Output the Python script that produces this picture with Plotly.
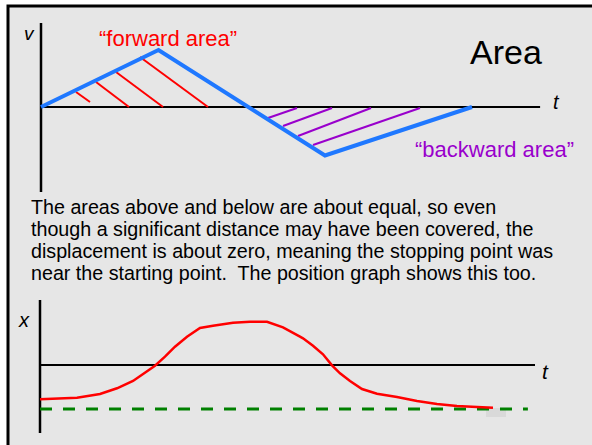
import plotly.graph_objects as go

W, H = 592, 445
FONT = "Liberation Sans"

# ---- velocity graph (t, v) ----
vel_t = [0.0, 2.726, 6.589, 10.0]
vel_v = [0.0, 5.7, -4.85, 0.0]

# hatching of the forward (positive) area: start/end of each stroke
fwd_t0 = [0.812, 1.276, 1.740, 2.297]
fwd_t1 = [1.137, 2.042, 2.831, 3.875]
fwd_v0 = [1.5, 2.5, 3.5, 5.0]
fwd_v1 = [0.5, 0.0, 0.0, 0.0]

# hatching of the backward (negative) area
back_t0 = [5.267, 5.615, 5.963, 6.311]
back_t1 = [5.940, 6.752, 7.657, 8.794]
back_v0 = [-1.1, -1.9, -2.9, -3.8]
back_v1 = [-0.1, -0.1, -0.1, -0.1]

vel_axis_v = [8.4, -8.5]      # extent of the v axis
vel_axis_t = [0.0, 11.58]     # extent of the t axis

# ---- position graph (t, x) ----
pos_t = [0.0, 0.858, 1.392, 1.787, 2.158, 2.483, 2.668, 2.900, 3.132, 3.411,
         3.712, 4.014, 4.478, 4.872, 5.267, 5.638, 5.800, 6.032, 6.102, 6.334,
         6.566, 6.775, 6.961, 7.193, 7.471, 7.819, 8.283, 8.747, 9.211, 9.675,
         10.139, 10.510]
pos_x = [-3.43, -3.27, -2.90, -2.33, -1.60, -0.67, -0.07, 0.83, 1.83, 2.83,
         3.70, 3.93, 4.23, 4.33, 4.33, 3.77, 3.35, 2.83, 2.67, 1.93,
         1.07, -0.03, -0.83, -1.60, -2.40, -2.87, -3.20, -3.60, -3.90, -4.10,
         -4.20, -4.27]
start_level = -4.4            # dashed reference level
start_level_t = [0.0, 11.32]

pos_axis_x = [6.5, -6.8]
pos_axis_t = [0.0, 11.485]

paragraph = [
    "The areas above and below are about equal, so even",
    "though a significant distance may have been covered, the",
    "displacement is about zero, meaning the stopping point was",
    "near the starting point.  The position graph shows this too.",
]


def segs(t0, t1, y0, y1):
    xs, ys = [], []
    for a, b, c, d in zip(t0, t1, y0, y1):
        xs += [a, b, None]
        ys += [c, d, None]
    return xs, ys


def px(x):
    return x / W


def py(y):
    return 1 - y / H


fig = go.Figure()

# velocity axes
fig.add_trace(go.Scatter(x=[0, 0], y=vel_axis_v, mode="lines",
                         line=dict(color="black", width=2.5), xaxis="x", yaxis="y"))
fig.add_trace(go.Scatter(x=vel_axis_t, y=[0, 0], mode="lines",
                         line=dict(color="black", width=2), xaxis="x", yaxis="y"))

hx, hy = segs(fwd_t0, fwd_t1, fwd_v0, fwd_v1)
fig.add_trace(go.Scatter(x=hx, y=hy, mode="lines",
                         line=dict(color="#ff0000", width=2), xaxis="x", yaxis="y"))
hx, hy = segs(back_t0, back_t1, back_v0, back_v1)
fig.add_trace(go.Scatter(x=hx, y=hy, mode="lines",
                         line=dict(color="#9900cc", width=2), xaxis="x", yaxis="y"))

fig.add_trace(go.Scatter(x=vel_t, y=vel_v, mode="lines",
                         line=dict(color="#1f78ff", width=4), xaxis="x", yaxis="y"))

# position axes
fig.add_trace(go.Scatter(x=[0, 0], y=pos_axis_x, mode="lines",
                         line=dict(color="black", width=2.5), xaxis="x2", yaxis="y2"))
fig.add_trace(go.Scatter(x=pos_axis_t, y=[0, 0], mode="lines",
                         line=dict(color="black", width=2), xaxis="x2", yaxis="y2"))
fig.add_trace(go.Scatter(x=start_level_t, y=[start_level, start_level], mode="lines",
                         line=dict(color="#008000", width=3, dash="12px,11px"),
                         xaxis="x2", yaxis="y2"))
fig.add_trace(go.Scatter(x=pos_t, y=pos_x, mode="lines",
                         line=dict(color="#ff0000", width=2.5), xaxis="x2", yaxis="y2"))

ax = dict(visible=False, fixedrange=True)
fig.update_layout(
    width=W, height=H,
    margin=dict(l=0, r=0, t=0, b=0),
    showlegend=False,
    paper_bgcolor="white",
    plot_bgcolor="rgba(0,0,0,0)",
    xaxis=dict(ax, domain=[0, 1], range=[-41 / 43.1, 551 / 43.1], anchor="y"),
    yaxis=dict(ax, domain=[1 - 200 / H, 1], range=[-9.3, 10.7], anchor="x"),
    xaxis2=dict(ax, domain=[0, 1], range=[-40 / 43.1, 552 / 43.1], anchor="y2"),
    yaxis2=dict(ax, domain=[0, 150 / H], range=[-8.0, 7.0], anchor="x2"),
    shapes=[
        dict(type="rect", xref="paper", yref="paper", layer="below",
             x0=px(8), x1=1.05, y0=-0.05, y1=py(6),
             line=dict(color="black", width=3), fillcolor="#e6e6e6"),
        dict(type="rect", xref="paper", yref="paper", layer="below",
             x0=px(486), x1=px(506), y0=py(417), y1=py(408),
             line=dict(width=0), fillcolor="#d9d9d9"),
    ],
)


def label(text, x, y, size, color="black", italic=False, xanchor="center"):
    fig.add_annotation(text=text, xref="paper", yref="paper", x=px(x), y=py(y),
                       xanchor=xanchor, yanchor="middle", showarrow=False,
                       borderpad=0,
                       font=dict(family=FONT, size=size, color=color,
                                 style="italic" if italic else "normal"))


label("v", 29, 33, 19, italic=True)
label("t", 556, 102, 20, italic=True)
label("\u201cforward area\u201d", 168, 38, 22, color="#ff0000")
label("Area", 506, 52, 34)
label("\u201cbackward area\u201d", 494, 149, 22, color="#9900cc")
for i, line in enumerate(paragraph):
    label(line, 30, 207 + i * 22, 19.7, xanchor="left")
label("x", 24, 320, 20, italic=True)
label("t", 545, 371, 21, italic=True)

fig.write_html("out.html")
